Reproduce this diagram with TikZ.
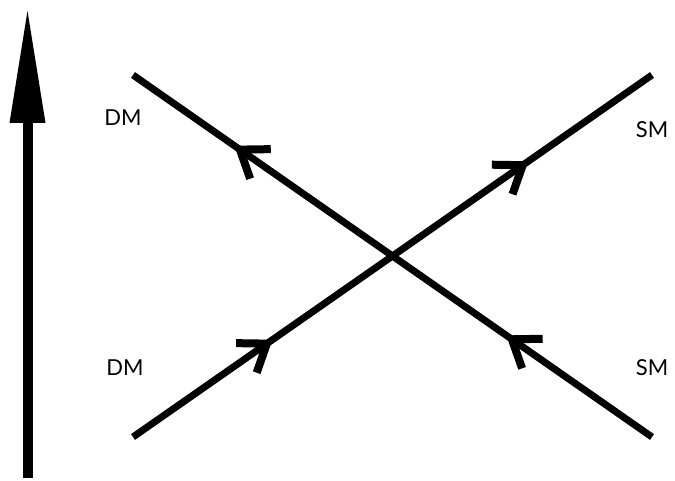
\documentclass[tikz,border=0pt]{standalone}
\usepackage{fontspec}
\setmainfont{Lato}
\usetikzlibrary{arrows.meta,decorations.markings}
\begin{document}
\begin{tikzpicture}[x=1pt,y=1pt,
  chev/.code={\draw[line width=8pt,line join=miter,line cap=butt] (-25,18) -- (0,0) -- (-25,-18);},
  curve/.style 2 args={line width=7pt, line cap=butt,
    postaction={decorate},
    decoration={markings,
      mark=at position #1 with {\draw[line width=8pt,line join=miter,line cap=butt] (-25,18) -- (0,0) -- (-25,-18);},
      mark=at position #2 with {\draw[line width=8pt,line join=miter,line cap=butt] (-25,18) -- (0,0) -- (-25,-18);}}},
  lbl/.style={font=\fontsize{22}{26}\selectfont, inner sep=0pt}]
\useasboundingbox (0,0) rectangle (675,480);
\coordinate (axb) at (27.5,2);
\coordinate (axt) at (27.5,473);
\draw[line width=10pt, -{Triangle[length=116pt,width=33pt]}] (axb) -- (axt);
\coordinate (a1) at (652,43);
\coordinate (a2) at (133,405);
\coordinate (b1) at (133,43);
\coordinate (b2) at (652,405);
\draw[curve={0.27}{0.794}] (a1) -- (a2);
\draw[curve={0.258}{0.751}] (b1) -- (b2);
\node[lbl] (dmt) at (123,362) {DM};
\node[lbl] (smt) at (652,350) {SM};
\node[lbl] (dmb) at (125,112) {DM};
\node[lbl] (smb) at (652,112) {SM};
\end{tikzpicture}
\end{document}
